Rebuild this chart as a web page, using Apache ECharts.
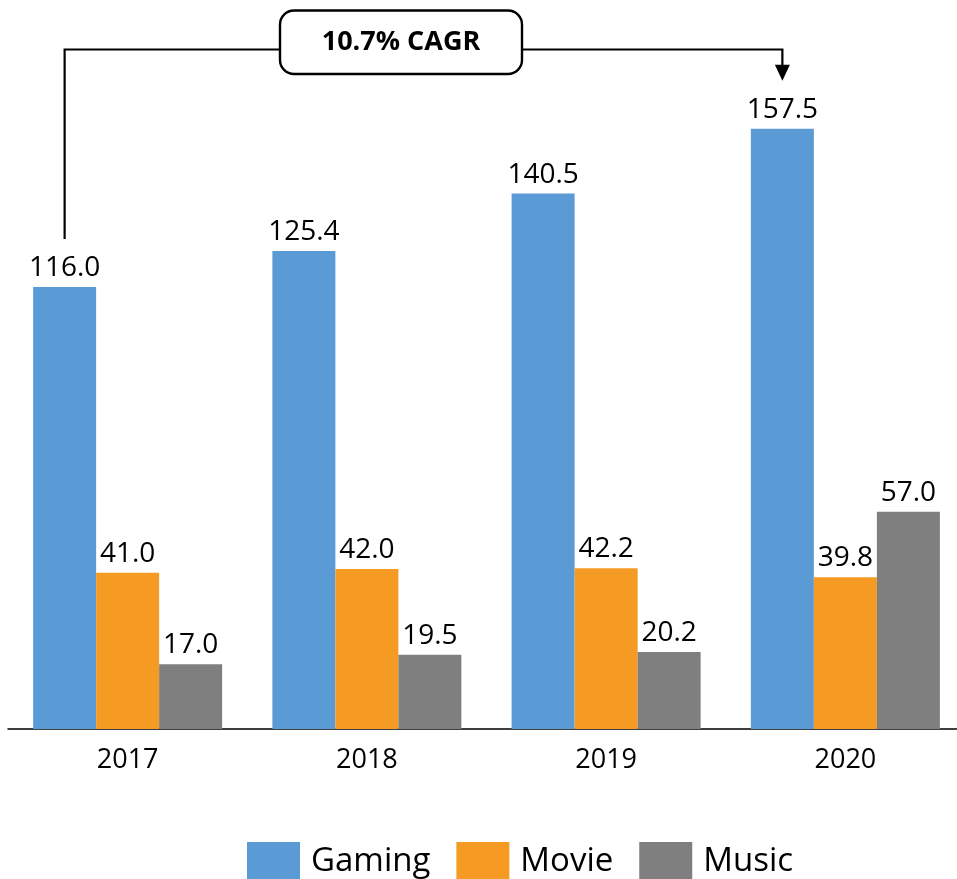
<!DOCTYPE html>
<html>
<head>
<meta charset="utf-8">
<script src="https://cdn.jsdelivr.net/npm/echarts@6/dist/echarts.min.js"></script>
<style>
  html, body { margin: 0; padding: 0; background: #fff; }
  #main { width: 957px; height: 879px; }
</style>
</head>
<body>
<div id="main"></div>
<script>
const categories = ['2017', '2018', '2019', '2020'];
const gaming = [116.0, 125.4, 140.5, 157.5];
const movie = [41.0, 42.0, 42.2, 39.8];
const music = [17.0, 19.5, 20.2, 57.0];
const seriesNames = ['Gaming', 'Movie', 'Music'];
const colors = ['#5B9BD5', '#F59A23', '#7F7F7F'];
const cagrText = '10.7% CAGR';

const FONT = 'Open Sans';
const GAP = 0.21;

const labelStyle = {
  show: true,
  position: 'top',
  distance: 5,
  color: '#000',
  fontFamily: FONT,
  fontSize: 28,
  formatter: p => p.value.toFixed(1)
};

function barSeries(name, data, color) {
  return {
    name: name,
    type: 'bar',
    data: data,
    barGap: '0%',
    barCategoryGap: (GAP * 100) + '%',
    itemStyle: { color: color },
    label: labelStyle,
    emphasis: { disabled: true }
  };
}

const chart = echarts.init(document.getElementById('main'));
const option = {
  animation: false,
  textStyle: { fontFamily: FONT },
  grid: { left: 8, width: 957, top: 43, bottom: 150, containLabel: false, outerBoundsMode: 'none' },
  legend: {
    data: seriesNames,
    left: 242,
    top: 837,
    itemWidth: 53,
    itemHeight: 40,
    itemGap: 26,
    icon: 'rect',
    selectedMode: false,
    textStyle: { fontFamily: FONT, fontSize: 33, color: '#000', padding: [0, 0, 0, 6] }
  },
  xAxis: {
    type: 'category',
    data: categories,
    axisLine: { lineStyle: { color: '#000', width: 1.5 } },
    axisTick: { show: false },
    axisLabel: { color: '#000', fontFamily: FONT, fontSize: 27, margin: 18 }
  },
  yAxis: {
    type: 'value',
    min: 0,
    max: 180,
    show: false,
    splitLine: { show: false }
  },
  series: [
    barSeries(seriesNames[0], gaming, colors[0]),
    barSeries(seriesNames[1], movie, colors[1]),
    barSeries(seriesNames[2], music, colors[2])
  ]
};
chart.setOption(option);

// Annotation connectors derived from the axis scales
const c0 = chart.convertToPixel({ xAxisIndex: 0 }, categories[0]);
const c1 = chart.convertToPixel({ xAxisIndex: 0 }, categories[1]);
const cN = chart.convertToPixel({ xAxisIndex: 0 }, categories[categories.length - 1]);
const band = c1 - c0;
const bw = band * (1 - GAP) / 3;
const xStart = c0 - bw;
const xEnd = cN - bw;
const yStart = chart.convertToPixel({ yAxisIndex: 0 }, gaming[0]) - 48;
const yEnd = chart.convertToPixel({ yAxisIndex: 0 }, gaming[gaming.length - 1]) - 48;

const boxL = 280, boxR = 522, boxT = 10.5, boxB = 74;
const lineY = 49.5;
const lineStyle = { stroke: '#000', lineWidth: 2.2, fill: null };

chart.setOption({
  graphic: [
    { type: 'polyline', shape: { points: [[xStart, yStart], [xStart, lineY], [boxL, lineY]] }, style: lineStyle, z: 10 },
    { type: 'polyline', shape: { points: [[boxR, lineY], [xEnd, lineY], [xEnd, yEnd - 15]] }, style: lineStyle, z: 10 },
    { type: 'polygon', shape: { points: [[xEnd - 7.5, yEnd - 16], [xEnd + 7.5, yEnd - 16], [xEnd, yEnd]] }, style: { fill: '#000' }, z: 10 },
    { type: 'rect', shape: { x: boxL, y: boxT, width: boxR - boxL, height: boxB - boxT, r: 14 }, style: { fill: '#fff', stroke: '#000', lineWidth: 2.4 }, z: 11 },
    { type: 'text', x: (boxL + boxR) / 2, y: (boxT + boxB) / 2, style: { text: cagrText, fill: '#000', font: 'bold 27px "Open Sans"', align: 'center', verticalAlign: 'middle' }, z: 12 }
  ]
});
</script>
</body>
</html>
